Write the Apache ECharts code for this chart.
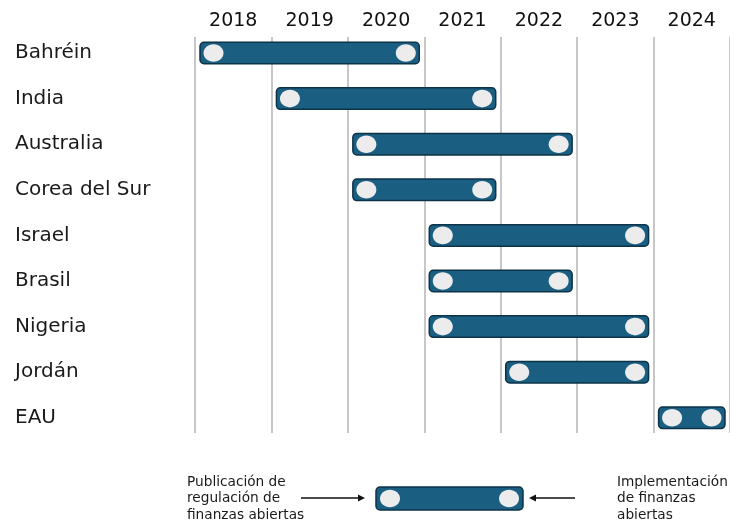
<!DOCTYPE html>
<html>
<head>
<meta charset="utf-8">
<script src="https://cdn.jsdelivr.net/npm/echarts@6/dist/echarts.min.js"></script>
<style>
    html, body { margin: 0; padding: 0; background: #fff; }
    #chart { width: 730px; height: 523px; }
</style>
</head>
<body>
<div id="chart"></div>
<script>
    // years shown as columns along the top
    const years = ['2018', '2019', '2020', '2021', '2022', '2023', '2024'];
    const countries = ['Bahréin', 'India', 'Australia', 'Corea del Sur', 'Israel', 'Brasil', 'Nigeria', 'Jordán', 'EAU'];
    // publication year -> implementation year
    const startYears = ['2018', '2019', '2020', '2020', '2021', '2021', '2021', '2022', '2024'];
    const endYears = ['2020', '2021', '2022', '2021', '2023', '2022', '2023', '2023', '2024'];

    const legendLeft = ['Publicación de', 'regulación de', 'finanzas abiertas'];
    const legendRight = ['Implementación', 'de finanzas', 'abiertas'];

    const fill = '#1a5f82';
    const edge = '#0d3347';
    const dot = '#ececec';
    const font = 'DejaVu Sans';

    let chart = echarts.init(document.getElementById('chart'));

    let rows = countries.map((c, i) => [startYears[i], endYears[i], c]);

    function renderBar(params, api) {
        let a = api.coord([api.value(0), api.value(2)]);
        let b = api.coord([api.value(1), api.value(2)]);
        let band = api.size([1, 0])[0];
        let x0 = a[0] - band / 2 + 5;
        let x1 = b[0] + band / 2 - 5;
        let h = 21.5;
        let y = a[1];
        return {
            type: 'group',
            children: [
                {
                    type: 'rect',
                    shape: { x: x0, y: y - h / 2, width: x1 - x0, height: h, r: 4 },
                    style: { fill: fill, stroke: edge, lineWidth: 1.5 }
                },
                {
                    type: 'ellipse',
                    shape: { cx: x0 + 13.5, cy: y, rx: 10, ry: 8.8 },
                    style: { fill: dot }
                },
                {
                    type: 'ellipse',
                    shape: { cx: x1 - 13.5, cy: y, rx: 10, ry: 8.8 },
                    style: { fill: dot }
                }
            ]
        };
    }

    function arrow(x0, x1, y) {
        let dir = x1 > x0 ? 1 : -1;
        return [
            { type: 'line', shape: { x1: x0, y1: y, x2: x1 - dir * 6, y2: y }, style: { stroke: '#111', lineWidth: 1.5 } },
            { type: 'polygon', shape: { points: [[x1, y], [x1 - dir * 7, y - 3.5], [x1 - dir * 7, y + 3.5]] }, style: { fill: '#111' } }
        ];
    }

    let legendText = (lines, x) => lines.map((t, i) => ({
        type: 'text',
        left: x,
        top: 475 + i * 16.5,
        style: { text: t, fontSize: 13.7, fontFamily: font, fill: '#1a1a1a' }
    }));

    let option = {
        animation: false,
        grid: [
            { left: 195, width: 537, top: 37, height: 396 },
            { left: 195, width: 537, top: 30.2, height: 410.4 }
        ],
        xAxis: [
            {
                type: 'category',
                gridIndex: 0,
                data: years,
                position: 'top',
                axisLine: { show: false },
                axisTick: { show: false },
                axisLabel: { fontSize: 19, fontFamily: font, color: '#111', margin: 6 },
                splitLine: { show: true, lineStyle: { color: '#b4b4b4', width: 1.5 } }
            },
            {
                type: 'category',
                gridIndex: 1,
                data: years,
                show: false
            }
        ],
        yAxis: [
            {
                type: 'value',
                gridIndex: 0,
                show: false
            },
            {
                type: 'category',
                gridIndex: 1,
                data: countries,
                inverse: true,
                axisLine: { show: false },
                axisTick: { show: false },
                splitLine: { show: false },
                axisLabel: { fontSize: 20, fontFamily: font, color: '#1a1a1a', align: 'left', margin: 180 }
            }
        ],
        series: [
            {
                type: 'custom',
                xAxisIndex: 1,
                yAxisIndex: 1,
                renderItem: renderBar,
                encode: { x: [0, 1], y: 2 },
                data: rows
            }
        ],
        graphic: [
            {
                type: 'rect',
                shape: { x: 376, y: 487, width: 147, height: 23, r: 4 },
                style: { fill: fill, stroke: edge, lineWidth: 1.5 }
            },
            { type: 'ellipse', shape: { cx: 390, cy: 498.5, rx: 10, ry: 8.8 }, style: { fill: dot } },
            { type: 'ellipse', shape: { cx: 509, cy: 498.5, rx: 10, ry: 8.8 }, style: { fill: dot } },
            ...arrow(301, 365, 498),
            ...arrow(575, 529, 498),
            ...legendText(legendLeft, 187),
            ...legendText(legendRight, 617)
        ]
    };

    chart.setOption(option);
</script>
</body>
</html>
